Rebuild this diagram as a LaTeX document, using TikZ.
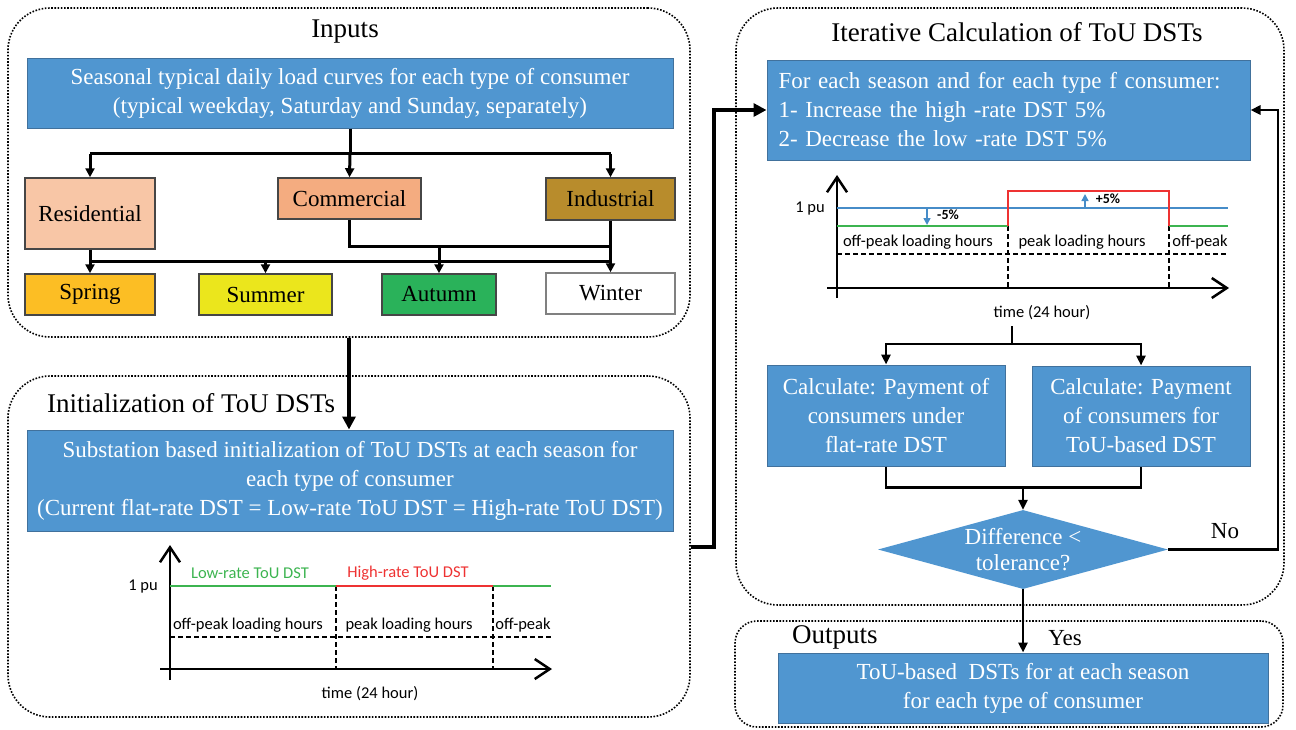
\documentclass[tikz,border=0pt]{standalone}
\usepackage{fontspec}
\setmainfont{Liberation Serif}
\newfontfamily\chartfont{Carlito}
\usepackage{tikz}
\usetikzlibrary{arrows.meta,shapes.geometric,positioning}
\definecolor{boxblue}{RGB}{80,150,208}
\definecolor{boxedge}{RGB}{65,113,156}
\definecolor{kindedge}{RGB}{70,70,70}
\definecolor{resfill}{RGB}{248,198,166}
\definecolor{comfill}{RGB}{244,172,128}
\definecolor{indfill}{RGB}{184,140,44}
\definecolor{springfill}{RGB}{252,190,36}
\definecolor{summerfill}{RGB}{235,230,28}
\definecolor{autumnfill}{RGB}{42,178,90}
\definecolor{lowgreen}{RGB}{60,180,80}
\definecolor{highred}{RGB}{238,50,50}
\definecolor{lineblue}{RGB}{70,140,200}

\begin{document}
\begin{tikzpicture}[x=1pt, y=-1pt,
    group/.style={draw, line width=1.6pt, dash pattern=on 1.6pt off 1.6pt, rounded corners=42pt, inner sep=0pt},
    title/.style={font=\fontsize{27}{32}\selectfont, inner sep=0pt},
    bluebox/.style={rectangle, draw=boxedge, line width=1pt, fill=boxblue, text=white, align=center, inner sep=0pt, font=\fontsize{23}{29}\selectfont},
    kindbox/.style={rectangle, draw=kindedge, line width=1.5pt, inner sep=0pt, font=\fontsize{23}{28}\selectfont},
    bus/.style={line width=3pt},
    busarrow/.style={bus, -{Triangle[length=9pt,width=9pt]}},
    flow/.style={line width=2.5pt, -{Triangle[length=10pt,width=9pt]}},
    bigarrow/.style={line width=4pt, -{Triangle[length=13pt,width=13pt]}},
    axis/.style={line width=2.5pt, -{Straight Barb[length=15pt,width=20pt]}},
    slot/.style={line width=1.5pt, dash pattern=on 5pt off 3pt},
    chartlbl/.style={font=\chartfont\fontsize{16.5}{18}\selectfont, inner sep=0pt},
    pctlbl/.style={font=\chartfont\bfseries\fontsize{14}{16}\selectfont, inner sep=0pt},
    answer/.style={font=\fontsize{23}{28}\selectfont, inner sep=0pt}
]
    \useasboundingbox (0,0) rectangle (1296,729);

    % dotted frames
    \node[group, minimum width=682pt, minimum height=329pt] (inputsgrp) at (349,172.5) {};
    \node[group, minimum width=682pt, minimum height=341pt] (initgrp) at (349,546.5) {};
    \node[group, minimum width=548pt, minimum height=597pt] (itergrp) at (1010,306.5) {};
    \node[group, rounded corners=22pt, minimum width=548pt, minimum height=106pt] (outgrp) at (1009,674) {};

    \node[title] (inputstitle) at (345,32) {Inputs};
    \node[title, anchor=west] (inittitle) at (47,403) {Initialization of ToU DSTs};
    \node[title] (itertitle) at (1017,32) {Iterative Calculation of ToU DSTs};
    \node[title, anchor=west] (outtitle) at (792,637) {Outputs};

    % inputs
    \node[bluebox, minimum width=646pt, minimum height=70pt] (seasonal) at (350,93)
        {Seasonal typical daily load curves for each type of consumer\\(typical weekday, Saturday and Sunday, separately)};
    \node[kindbox, fill=resfill, minimum width=130pt, minimum height=71pt] (res) at (90,213.5) {Residential};
    \node[kindbox, fill=comfill, minimum width=143pt, minimum height=41pt] (com) at (349.5,198.5) {Commercial};
    \node[kindbox, fill=indfill, minimum width=129pt, minimum height=42pt] (ind) at (610.5,199) {Industrial};
    \node[kindbox, fill=springfill, minimum width=130pt, minimum height=41pt] (spring) at (90,294.5) {Spring};
    \node[kindbox, fill=summerfill, minimum width=133pt, minimum height=41pt] (summer) at (265.5,294.5) {Summer};
    \node[kindbox, fill=autumnfill, minimum width=114pt, minimum height=41pt] (autumn) at (439,294.5) {Autumn};
    \node[kindbox, draw=gray, fill=white, minimum width=129pt, minimum height=41pt] (winter) at (610.5,293.5) {Winter};

    \draw[bus] (seasonal.south) -- ++(0,25) coordinate (split);
    \draw[bus] (res.north |- split) -- (ind.north |- split);
    \draw[busarrow] (res.north |- split) -- (res.north);
    \draw[busarrow] (split) -- (com.north);
    \draw[busarrow] (ind.north |- split) -- (ind.north);

    \coordinate (midbus) at (0,246);
    \coordinate (lowbus) at (0,261);
    \draw[bus] (res.south) -- (res.south |- lowbus) -- (winter.north |- lowbus);
    \draw[busarrow] (res.south |- lowbus) -- (spring.north);
    \draw[busarrow] (summer.north |- lowbus) -- (summer.north);
    \draw[bus] (com.south) -- (com.south |- midbus) -- (ind.south |- midbus);
    \draw[busarrow] (autumn.north |- midbus) -- (autumn.north);
    \draw[busarrow] (ind.south) -- (winter.north);

    % initialization
    \node[bluebox, minimum width=646pt, minimum height=101pt] (subst) at (350,480.5)
        {Substation based initialization of ToU DSTs at each season for\\each type of consumer\\(Current flat-rate DST = Low-rate ToU DST = High-rate ToU DST)};
    \draw[bigarrow] (inputsgrp.south) -- (inputsgrp.south |- subst.north);

    \draw[axis] (170,680) -- (170,545);
    \draw[axis] (160,669) -- (552,669);
    \draw[slot] (336,586) -- (336,669) (493,586) -- (493,669) (170,637) -- (551,637);
    \draw[line width=2.5pt, lowgreen] (170,586) -- (336,586) (493,586) -- (551,586);
    \draw[line width=2.5pt, highred] (336,586) -- (493,586);
    \node[chartlbl, text=lowgreen] (lowlbl) at (250,573) {Low-rate ToU DST};
    \node[chartlbl, text=highred] (highlbl) at (408,573) {High-rate ToU DST};
    \node[chartlbl] (pu1) at (143,587) {1 pu};
    \node[chartlbl] (off1) at (248,625) {off-peak loading hours};
    \node[chartlbl] (peak1) at (409,625) {peak loading hours};
    \node[chartlbl] (tail1) at (523,625) {off-peak};
    \node[chartlbl] (time1) at (370,694) {time (24 hour)};

    % iterative calculation
    \node[bluebox, align=left, text width=460pt, inner xsep=11.5pt, minimum height=100pt] (iterbox) at (1008.5,110)
        {For each season and for each type f consumer:\\1- Increase the high -rate DST 5\%\\2- Decrease the low -rate DST 5\%};
    \draw[bigarrow] (initgrp.east) -- ++(23,0) |- (iterbox.west);

    \draw[axis] (837,298) -- (837,175);
    \draw[axis] (827,288) -- (1229,288);
    \draw[slot] (1008,226) -- (1008,288) (1169,226) -- (1169,288) (837,254) -- (1228,254);
    \draw[line width=1.5pt, lineblue] (837,208) -- (1228,208);
    \draw[line width=2.5pt, lowgreen] (837,226) -- (1008,226) (1169,226) -- (1228,226);
    \draw[line width=2.5pt, highred] (1008,226) -- (1008,191) -- (1169,191) -- (1169,226);
    \draw[line width=1.5pt, lineblue, -{Triangle[length=7pt,width=7pt]}] (927,209) -- (927,225);
    \draw[line width=1.5pt, lineblue, -{Triangle[length=7pt,width=7pt]}] (1085,207) -- (1085,194);
    \node[pctlbl] (down5) at (948,215) {-5\%};
    \node[pctlbl] (up5) at (1108,199) {+5\%};
    \node[chartlbl] (pu2) at (810,209) {1 pu};
    \node[chartlbl] (off2) at (918,242) {off-peak loading hours};
    \node[chartlbl] (peak2) at (1082,242) {peak loading hours};
    \node[chartlbl] (tail2) at (1200,242) {off-peak};
    \node[chartlbl] (time2) at (1042,313) {time (24 hour)};

    \node[bluebox, minimum width=238pt, minimum height=101pt] (calcflat) at (886,415.5)
        {Calculate: Payment of\\consumers under\\flat-rate DST};
    \node[bluebox, minimum width=218pt, minimum height=100pt] (calctou) at (1141,416)
        {Calculate: Payment\\of consumers for\\ToU-based DST};
    \node[diamond, fill=boxblue, aspect=3.67, inner sep=0pt, minimum width=290pt, minimum height=79pt] (check) at (1023,549.5) {};
    \node[text=white, align=center, inner sep=0pt, font=\fontsize{23}{26}\selectfont] (checktext) at (check.center) {Difference <\\tolerance?};

    \coordinate (chartout) at (1012,326);
    \draw[line width=2.5pt] (chartout) -- ++(0,18) coordinate (fork);
    \draw[flow] (fork) -| (calcflat.north);
    \draw[flow] (fork) -| (calctou.north);
    \draw[line width=2.5pt] (calcflat.south) -- ++(0,21) coordinate (merge) -| (calctou.south);
    \draw[flow] (check.north |- merge) -- (check.north);

    \draw[flow] (check.east) -- ++(110,0) |- (iterbox.east);
    \node[answer] (nolbl) at (1225,531) {No};

    % outputs
    \node[bluebox, minimum width=490pt, minimum height=70pt] (outbox) at (1023,688)
        {ToU-based\ \ DSTs for at each season\\for each type of consumer};
    \draw[flow] (check.south) -- (outbox.north);
    \node[answer] (yeslbl) at (1065,638) {Yes};
\end{tikzpicture}
\end{document}
